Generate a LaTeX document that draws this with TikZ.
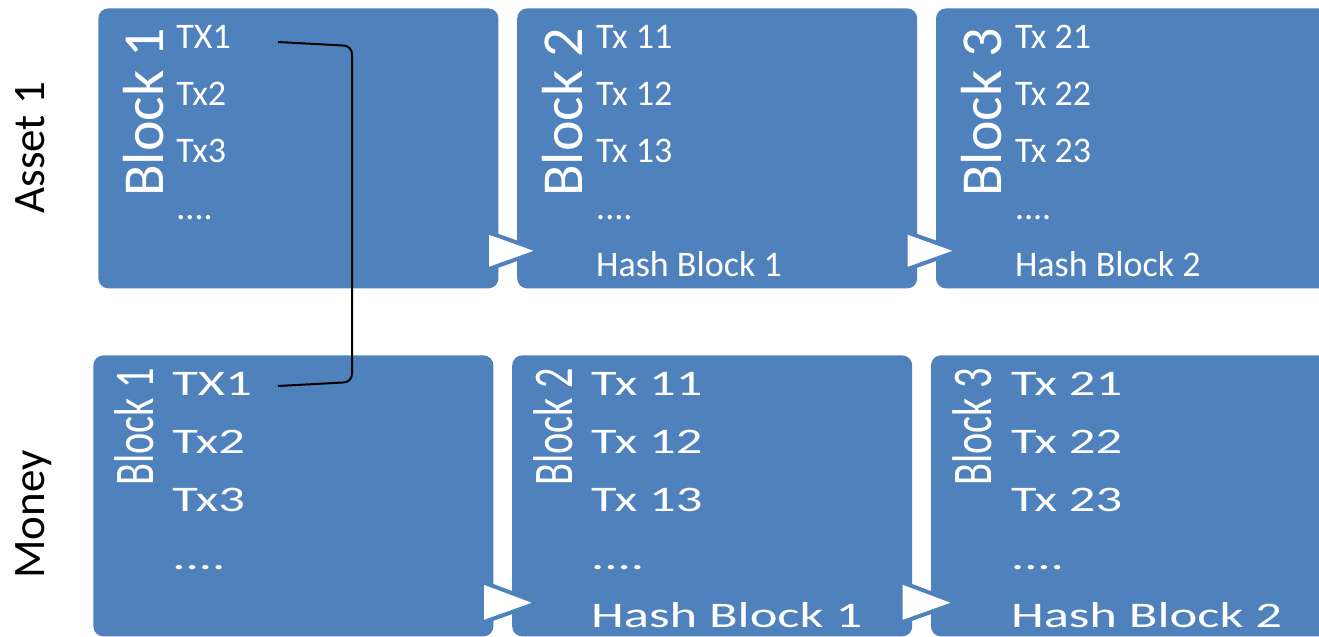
\documentclass[tikz,border=0pt]{standalone}
\usepackage{fontspec}
\setmainfont{Carlito}
\newfontfamily\widefont[FakeStretch=1.46]{Carlito}
\newfontfamily\narrowfont[FakeStretch=0.72]{Carlito}
\usetikzlibrary{positioning, calc}
\definecolor{chainblue}{RGB}{79,129,189}

\begin{document}
\begin{tikzpicture}[
  x=0.5pt, y=-0.5pt,
  block/.style    = {rectangle, rounded corners=5pt, fill=chainblue,
                     inner sep=0pt, minimum width=200pt,
                     minimum height=140pt, anchor=north west},
  txlist/.style   = {anchor=north west, inner sep=0pt, align=left,
                     text=white, font=\fontsize{18pt}{28.5pt}\selectfont},
  txwide/.style   = {txlist, font=\widefont\fontsize{18pt}{29pt}\selectfont},
  blocklbl/.style = {rotate=90, anchor=base west, inner sep=0pt,
                     text=white, font=\fontsize{29pt}{29pt}\selectfont},
  blocknar/.style = {blocklbl, font=\narrowfont\fontsize{28pt}{28pt}\selectfont},
  rowlbl/.style   = {rotate=90, anchor=base west, inner sep=0pt,
                     font=\fontsize{22.5pt}{22.5pt}\selectfont},
  hashtip/.style  = {fill=white, draw=chainblue, line width=2pt},
  link/.style     = {draw=black, line width=1pt, rounded corners=4pt},
]
\useasboundingbox (0,0) rectangle (1319,637);
\clip (0,0) rectangle (1319,637);
\fill[white] (0,0) rectangle (1319,637);

% asset chain
\node[block]                    (a1) at (98,8) {};
\node[block, right=9pt of a1]   (a2) {};
\node[block, right=9pt of a2]   (a3) {};
% money chain
\node[block, minimum height=140.5pt] (m1) at (93,355) {};
\node[block, minimum height=140.5pt, right=9pt of m1] (m2) {};
\node[block, minimum height=140.5pt, right=9pt of m2] (m3) {};

% transactions
\node[txlist] (a1tx) at ($(a1.north west)+(78,17)$) {TX1\\Tx2\\Tx3\\....};
\node[txlist] (a2tx) at ($(a2.north west)+(79,17)$) {Tx 11\\Tx 12\\Tx 13\\....\\Hash Block 1};
\node[txlist] (a3tx) at ($(a3.north west)+(79,17)$) {Tx 21\\Tx 22\\Tx 23\\....\\Hash Block 2};
\node[txwide] (m1tx) at ($(m1.north west)+(79,17)$) {TX1\\Tx2\\Tx3\\....};
\node[txwide] (m2tx) at ($(m2.north west)+(79,17)$) {Tx 11\\Tx 12\\Tx 13\\....\\Hash Block 1};
\node[txwide] (m3tx) at ($(m3.north west)+(80,17)$) {Tx 21\\Tx 22\\Tx 23\\....\\Hash Block 2};

% block titles
\node[blocklbl] (a1lbl) at ($(a1.north west)+(65,189)$) {Block 1};
\node[blocklbl] (a2lbl) at ($(a2.north west)+(66,189)$) {Block 2};
\node[blocklbl] (a3lbl) at ($(a3.north west)+(66,189)$) {Block 3};
\node[blocknar] (m1lbl) at ($(m1.north west)+(60,131)$) {Block 1};
\node[blocknar] (m2lbl) at ($(m2.north west)+(61,131)$) {Block 2};
\node[blocknar] (m3lbl) at ($(m3.north west)+(61,131)$) {Block 3};

% row titles
\node[rowlbl] (asset) at ($(a1.north west)+(-53,206)$) {Asset 1};
\node[rowlbl] (money) at ($(m1.north west)+(-48,224)$) {Money};

% hash pointers between blocks
\foreach \p/\q in {a1/a2, a2/a3}
  \draw[hashtip] ($(\p.south east)+(-12,-57)$) -- ($(\q.south west)+(23,-38)$)
                 -- ($(\p.south east)+(-12,-19)$) -- cycle;
\foreach \p/\q in {m1/m2, m2/m3}
  \draw[hashtip] ($(\p.south east)+(-12,-55)$) -- ($(\q.south west)+(26,-34)$)
                 -- ($(\p.south east)+(-12,-14)$) -- cycle;

% TX1 in both chains
\coordinate (lnkA) at ($(a1.north west)+(180,34)$);
\coordinate (lnkB) at ($(m1.north west)+(185,31)$);
\draw[link] (lnkA) -- ($(lnkA)+(74,4)$) -- ($(lnkB)+(74,-4)$) -- (lnkB);
\end{tikzpicture}
\end{document}
